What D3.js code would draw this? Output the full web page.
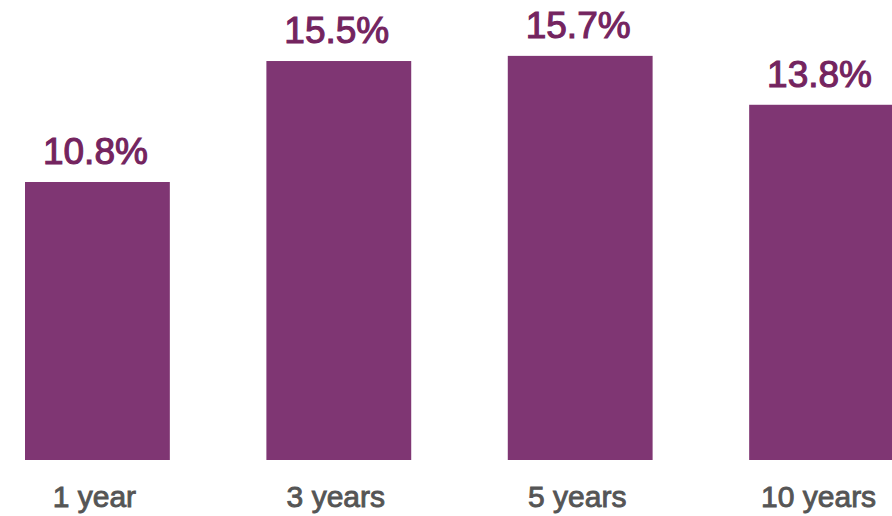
<!DOCTYPE html>
<html>
<head>
<meta charset="utf-8">
<script src="https://cdn.jsdelivr.net/npm/d3@7"></script>
<style>
  html, body { margin: 0; padding: 0; background: #fff; }
</style>
</head>
<body>
<div id="chart"></div>
<script>
(() => {
  const width = 892;
  const height = 516;

  // data
  const periods = ["1 year", "3 years", "5 years", "10 years"];
  const returns = [10.8, 15.5, 15.7, 13.8];

  const barColor = "#7f3673";
  const labelColor = "#74245f";

  const x = d3.scaleBand()
    .domain(periods)
    .range([25, 894])
    .paddingInner(0.4)
    .paddingOuter(0);

  const y = d3.scaleLinear()
    .domain([0, 10.8])
    .range([460, 182]);

  const svg = d3.select("#chart")
    .append("svg")
    .attr("width", width)
    .attr("height", height)
    .style("display", "block");

  svg.append("g")
    .selectAll("rect")
    .data(returns)
    .join("rect")
    .attr("x", (d, i) => x(periods[i]))
    .attr("y", d => y(d))
    .attr("width", x.bandwidth())
    .attr("height", d => y(0) - y(d))
    .attr("fill", barColor);

  // value labels, a bit heavier than regular (medium weight)
  svg.append("g")
    .attr("font-family", "Liberation Sans, Arial, sans-serif")
    .attr("font-size", 37)
    .attr("text-anchor", "middle")
    .attr("fill", labelColor)
    .attr("stroke", labelColor)
    .attr("stroke-width", 1.1)
    .selectAll("text")
    .data(returns)
    .join("text")
    .attr("x", (d, i) => x(periods[i]) + x.bandwidth() / 2 - 2)
    .attr("y", d => y(d) - 18)
    .text(d => d.toFixed(1) + "%");

  // category labels
  const xAxis = svg.append("g")
    .attr("transform", `translate(0,${y(0)})`)
    .call(d3.axisBottom(x).tickSize(0).tickPadding(0));
  xAxis.select(".domain").remove();
  xAxis.selectAll("text")
    .attr("font-family", "Liberation Sans, Arial, sans-serif")
    .attr("font-size", 30)
    .attr("fill", "#555")
    .attr("stroke", "#555")
    .attr("stroke-width", 0.9)
    .attr("dy", null)
    .attr("x", -3)
    .attr("y", 47);
})();
</script>
</body>
</html>
